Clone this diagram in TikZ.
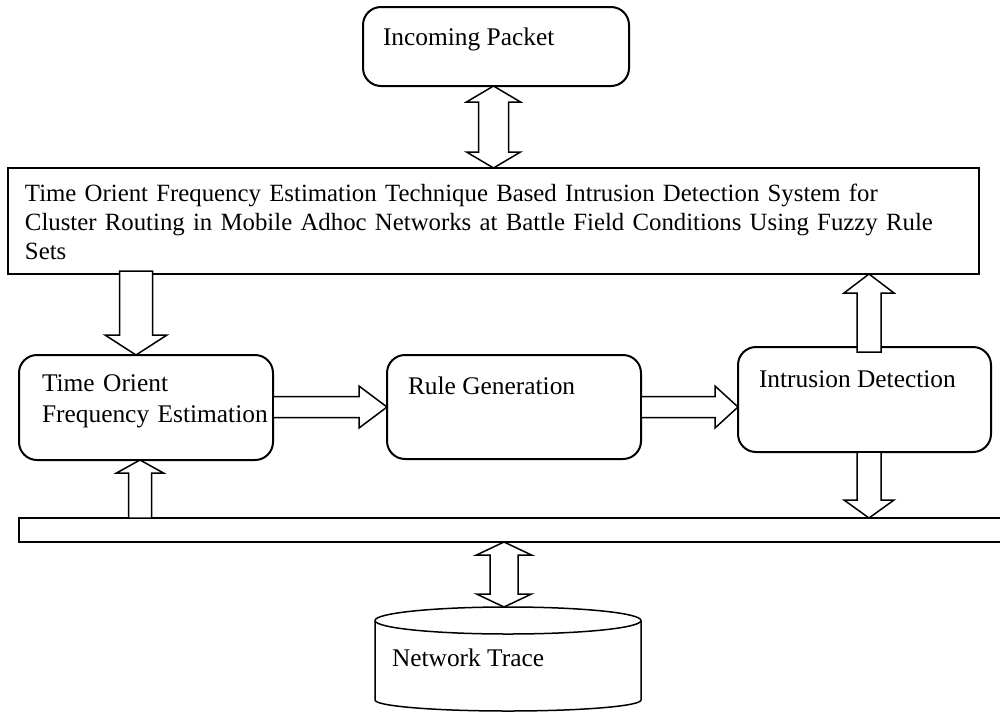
\documentclass[tikz,border=0pt]{standalone}
\usepackage{fontspec}
\setmainfont{Liberation Serif}
\usetikzlibrary{calc}

% Hollow block arrows: #1 start, #2 tip (x of the arrow is taken from the tip),
% #3 half shaft width, #4 half head width, #5 head length
\newcommand{\blockdown}[5]{%
  \draw[blockarrow] let \p1=(#1), \p2=(#2) in
    (\x2-#3,\y1) -- (\x2-#3,\y2+#5) -- (\x2-#4,\y2+#5) -- (\x2,\y2)
    -- (\x2+#4,\y2+#5) -- (\x2+#3,\y2+#5) -- (\x2+#3,\y1) -- cycle;}
\newcommand{\blockup}[5]{%
  \draw[blockarrow] let \p1=(#1), \p2=(#2) in
    (\x2-#3,\y1) -- (\x2-#3,\y2-#5) -- (\x2-#4,\y2-#5) -- (\x2,\y2)
    -- (\x2+#4,\y2-#5) -- (\x2+#3,\y2-#5) -- (\x2+#3,\y1) -- cycle;}
\newcommand{\blockright}[5]{%
  \draw[blockarrow] let \p1=(#1), \p2=(#2) in
    (\x1,\y2+#3) -- (\x2-#5,\y2+#3) -- (\x2-#5,\y2+#4) -- (\x2,\y2)
    -- (\x2-#5,\y2-#4) -- (\x2-#5,\y2-#3) -- (\x1,\y2-#3) -- cycle;}
% two-headed vertical arrow: #1 upper tip, #2 lower tip
\newcommand{\blockdbl}[5]{%
  \draw[blockarrow] let \p1=(#1), \p2=(#2) in
    (\x2,\y1) -- (\x2+#4,\y1-#5) -- (\x2+#3,\y1-#5) -- (\x2+#3,\y2+#5)
    -- (\x2+#4,\y2+#5) -- (\x2,\y2) -- (\x2-#4,\y2+#5) -- (\x2-#3,\y2+#5)
    -- (\x2-#3,\y1-#5) -- (\x2-#4,\y1-#5) -- cycle;}

\tikzset{
  box/.style={draw, rounded corners=9pt, line width=1pt, inner sep=0pt, outer sep=0pt},
  plain/.style={draw, line width=0.75pt, inner sep=0pt, outer sep=0pt},
  blockarrow/.style={draw, fill=white, line width=0.75pt, line join=miter},
  txt/.style={inner sep=0pt, outer sep=0pt, font=\fontsize{12.7}{14.5}\selectfont, align=left},
}

\begin{document}
\begin{tikzpicture}[x=0.5pt, y=-0.5pt]
\useasboundingbox (0,0) rectangle (1000,712);

% blocks
\node[box, minimum width=133pt, minimum height=39.5pt] (inc) at (496,46.5) {};
\node[plain, minimum width=485.5pt, minimum height=53pt] (sys) at (493.5,221) {};
\node[box, minimum width=127pt, minimum height=52.5pt] (tofe) at (146,407.5) {};
\node[box, minimum width=127pt, minimum height=52pt] (rg) at (514,407) {};
\node[box, minimum width=126.5pt, minimum height=52.5pt] (id) at (864.5,399.5) {};
\node[plain, minimum width=495.5pt, minimum height=12pt] (bar) at (514.5,530) {};
\node[inner sep=0pt, outer sep=0pt, minimum width=133pt, minimum height=52.5pt] (db) at (508,659.5) {};

% database cylinder
\draw[line width=0.75pt] (375,620.5) arc[start angle=180, end angle=-180, x radius=66.5pt, y radius=6.75pt];
\draw[line width=0.75pt] (375,620.5) -- (375,700)
  arc[start angle=180, end angle=360, x radius=66.5pt, y radius=5.5pt] -- (641,620.5);

% texts
\node[txt, anchor=base west] (inc-t) at (383,45) {Incoming Packet};
\node[txt, anchor=base west, text width=480pt, font=\fontsize{12.4}{14.5}\selectfont] (sys-t) at (25,201)
  {Time Orient Frequency Estimation Technique Based Intrusion Detection System for\\
   Cluster Routing in Mobile Adhoc Networks at Battle Field Conditions Using Fuzzy Rule\\
   Sets};
\node[txt, anchor=base west, text width=125pt, font=\fontsize{12.7}{15.5}\selectfont] (tofe-t) at (42,391)
  {Time Orient\\Frequency Estimation};
\node[txt, anchor=base west] (rg-t) at (408,394) {Rule Generation};
\node[txt, anchor=base west] (id-t) at (759,387) {Intrusion Detection};
\node[txt, anchor=base west] (db-t) at (392,666) {Network Trace};

% arrow axes
\coordinate (idx) at ([xshift=2.25pt]id.center);
\coordinate (dbx) at ([xshift=-2pt]db.center);

% connectors
\blockdbl{inc.south}{sys.north}{7.5pt}{13.5pt}{8pt}
\blockdown{[yshift=1.5pt]sys.south}{[xshift=-5pt]tofe.north}{8.25pt}{15.5pt}{10pt}
\blockup{bar.north}{[xshift=-3pt]tofe.south}{5.75pt}{11.75pt}{6.5pt}
\blockright{tofe.east}{rg.west}{5.25pt}{10.5pt}{14pt}
\blockright{rg.east}{[yshift=-3.75pt]id.west}{5.25pt}{10.5pt}{11.5pt}
\blockup{[yshift=-2.5pt]id.north}{idx |- sys.south}{6pt}{12.5pt}{9.5pt}
\blockdown{id.south}{idx |- bar.north}{6pt}{12.5pt}{9pt}
\blockdbl{dbx |- bar.south}{dbx |- db.north}{7pt}{13.75pt}{6.5pt}
\end{tikzpicture}
\end{document}
